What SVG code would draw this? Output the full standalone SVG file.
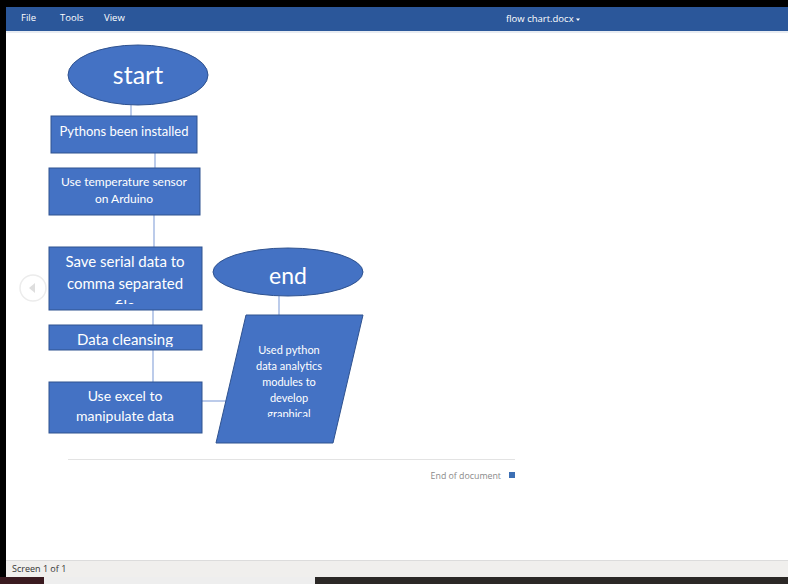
<svg xmlns="http://www.w3.org/2000/svg" width="788" height="584" viewBox="0 0 788 584">
<style>
.shape{fill:#4472c4;stroke:#2f528f;stroke-width:1}
.t{font-family:Lato,"Open Sans",sans-serif;fill:#ffffff;text-anchor:middle}
.conn{stroke:#8fa9dc;stroke-width:1.2;fill:none}
.ui{font-family:"Open Sans","Noto Sans",sans-serif}
</style>
<defs>
<clipPath id="cSave"><rect x="49" y="247" width="153" height="57"/></clipPath>
<clipPath id="cData"><rect x="49" y="325" width="153" height="22"/></clipPath>
<clipPath id="cPar"><rect x="216" y="315" width="147" height="102"/></clipPath>
</defs>
<rect width="788" height="584" fill="#ffffff"/>
<!-- window chrome -->
<rect x="0" y="0" width="788" height="7" fill="#000000"/>
<rect x="0" y="0" width="6" height="584" fill="#000000"/>
<rect x="6" y="7" width="782" height="24" fill="#2b579a"/>
<rect x="6" y="31" width="782" height="2" fill="#e8ecf2"/>
<text class="ui" x="21" y="21" fill="#ffffff" font-size="9.5">File</text>
<text class="ui" x="60" y="21" fill="#ffffff" font-size="9.5">Tools</text>
<text class="ui" x="104" y="21" fill="#ffffff" font-size="9.5">View</text>
<text class="ui" x="506" y="22" fill="#ffffff" font-size="9.5">flow chart.docx</text>
<path d="M576 18.5 L580 18.5 L578 21 Z" fill="#ffffff"/>
<rect x="6" y="560" width="782" height="17" fill="#f0efed"/>
<line x1="6" y1="560.5" x2="788" y2="560.5" stroke="#dcdcdc"/>
<text class="ui" x="12" y="572" fill="#333333" font-size="9">Screen 1 of 1</text>
<rect x="0" y="577" width="44" height="7" fill="#3a1a20"/>
<rect x="44" y="577" width="271" height="7" fill="#eeeeee"/>
<rect x="315" y="577" width="473" height="7" fill="#2b2826"/>
<circle cx="33" cy="288" r="13" fill="none" stroke="#ececec" stroke-width="1.5"/>
<path d="M35 283 L35 293 L29 288 Z" fill="#dedede"/>
<!-- connectors -->
<g id="connectors">
<line class="conn" x1="131" y1="105" x2="131" y2="116"/>
<line class="conn" x1="155" y1="153" x2="155" y2="168"/>
<line class="conn" x1="154" y1="215" x2="154" y2="247"/>
<line class="conn" x1="153" y1="310" x2="153" y2="325"/>
<line class="conn" x1="153" y1="350" x2="153" y2="382"/>
<line class="conn" x1="202" y1="401" x2="228" y2="401"/>
<line class="conn" x1="279" y1="296" x2="279" y2="315"/>
</g>
<g id="start">
<ellipse class="shape" cx="138" cy="75" rx="70" ry="30"/>
<text class="t" x="138" y="84" font-size="25">start</text>
</g>
<g id="pythons">
<rect class="shape" x="51" y="116" width="146" height="37"/>
<text class="t" x="124" y="136" font-size="13">Pythons been installed</text>
</g>
<g id="temp">
<rect class="shape" x="49" y="168" width="151" height="47"/>
<text class="t" x="124" y="186" font-size="12">Use temperature sensor</text>
<text class="t" x="124" y="203" font-size="12">on Arduino</text>
</g>
<g id="save">
<rect class="shape" x="49" y="247" width="153" height="63"/>
<g clip-path="url(#cSave)">
<text class="t" x="125" y="267" font-size="15">Save serial data to</text>
<text class="t" x="125" y="289" font-size="15">comma separated</text>
<text class="t" x="125" y="311" font-size="15">file</text>
</g>
</g>
<g id="cleansing">
<rect class="shape" x="49" y="325" width="153" height="25"/>
<g clip-path="url(#cData)">
<text class="t" x="125" y="345" font-size="15">Data cleansing</text>
</g>
</g>
<g id="excel">
<rect class="shape" x="49" y="382" width="153" height="51"/>
<text class="t" x="125" y="401" font-size="14">Use excel to</text>
<text class="t" x="125" y="421" font-size="14">manipulate data</text>
</g>
<g id="end">
<ellipse class="shape" cx="288" cy="272" rx="75" ry="24"/>
<text class="t" x="288" y="284" font-size="23">end</text>
</g>
<g id="output">
<polygon class="shape" points="246,315 363,315 333,443 216,443"/>
<g clip-path="url(#cPar)">
<text class="t" x="289" y="354" font-size="11">Used python</text>
<text class="t" x="289" y="370" font-size="11">data analytics</text>
<text class="t" x="289" y="386" font-size="11">modules to</text>
<text class="t" x="289" y="402" font-size="11">develop</text>
<text class="t" x="289" y="418" font-size="11">graphical</text>
</g>
</g>
<line x1="68" y1="459.5" x2="515" y2="459.5" stroke="#e3e3e3"/>
<text class="ui" x="501" y="479" fill="#8a8a8a" font-size="8.8" text-anchor="end">End of document</text>
<rect x="509" y="472" width="6" height="6" fill="#3c6fb4"/>
</svg>
